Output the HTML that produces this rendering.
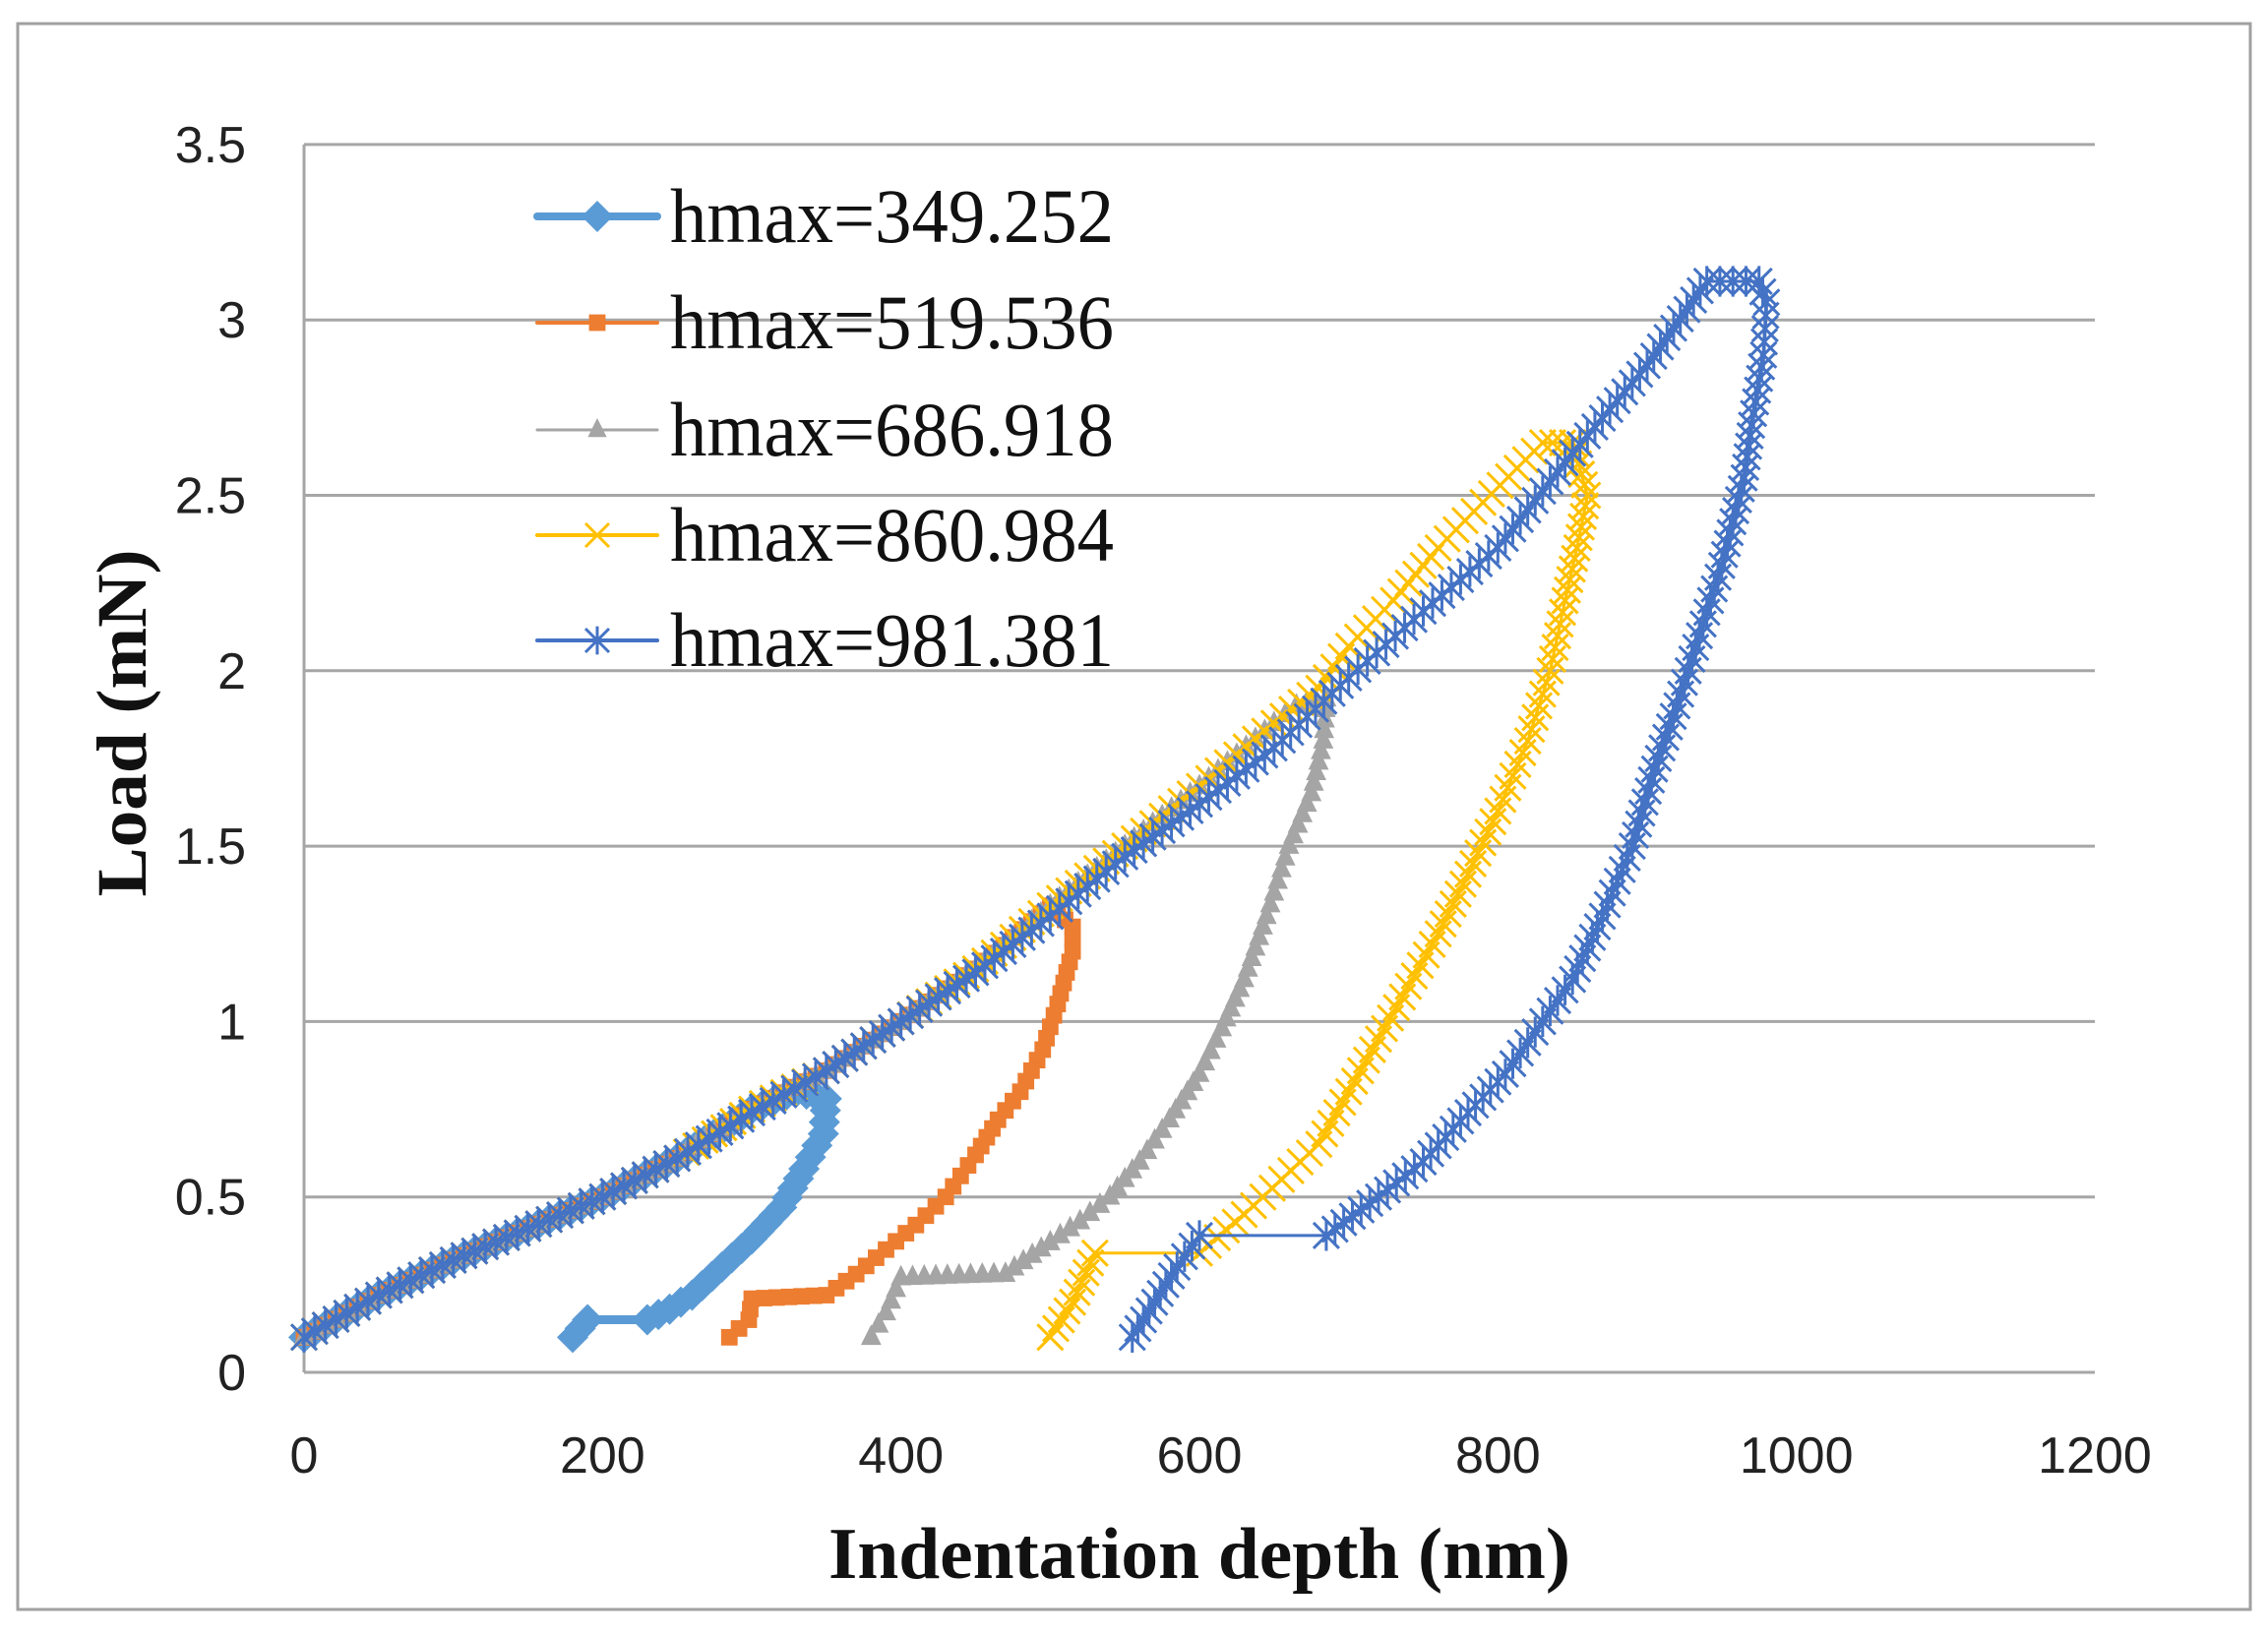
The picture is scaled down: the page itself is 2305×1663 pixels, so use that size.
<!DOCTYPE html>
<html><head><meta charset="utf-8"><style>
html,body{margin:0;padding:0;background:#fff}
svg{display:block}
</style></head><body>
<svg id="s" xmlns="http://www.w3.org/2000/svg" width="2305" height="1663" viewBox="0 0 2305 1663">
<rect x="0" y="0" width="2305" height="1663" fill="#fff"/>
<rect x="18" y="24" width="2269" height="1612" fill="#fff" stroke="#a0a0a0" stroke-width="3"/>
<g id="grid" stroke="#a6a6a6" stroke-width="3"></g>
<g id="ticks" font-family="'Liberation Sans',sans-serif" font-size="52" fill="#222"></g>
<text x="0" y="0" transform="translate(148,735) rotate(-90)" text-anchor="middle" font-family="'Liberation Serif',serif" font-weight="bold" font-size="72" fill="#111" textLength="353" lengthAdjust="spacingAndGlyphs">Load (mN)</text>
<text x="1219" y="1604" text-anchor="middle" font-family="'Liberation Serif',serif" font-weight="bold" font-size="74" fill="#111" textLength="754" lengthAdjust="spacingAndGlyphs">Indentation depth (nm)</text>
<g id="data"></g>
<g id="legend" font-family="'Liberation Serif',serif" font-size="78" fill="#111"></g>
</svg>
<script>
const NS="http://www.w3.org/2000/svg";
const X=h=>309+h*1820/1200, Y=p=>1395-p*356.6;
const grid=document.getElementById('grid'),ticks=document.getElementById('ticks');
function el(t,a,p){const e=document.createElementNS(NS,t);for(const k in a)e.setAttribute(k,a[k]);p.appendChild(e);return e;}
for(let i=0;i<=7;i++){const y=Y(i*0.5);el('line',{x1:309,x2:2129,y1:y,y2:y},grid);
 const t=el('text',{x:250,y:y+18,'text-anchor':'end'},ticks);t.textContent=(i*0.5).toString();}
el('line',{x1:309,x2:309,y1:Y(3.5),y2:Y(0)},grid);
for(let i=0;i<=6;i++){const t=el('text',{x:X(i*200),y:1497,'text-anchor':'middle'},ticks);t.textContent=(i*200).toString();}
const load=[[0,0.1],[50,0.22],[100,0.32],[150,0.41],[200,0.5],[250,0.61],[300,0.75],[350,0.86],[400,1.0],[450,1.15],[500,1.33],[550,1.5],[600,1.67],[650,1.85],[680,1.95]];
const loadB=[[0,0.1],[50,0.22],[100,0.32],[150,0.41],[200,0.5],[250,0.61],[300,0.74],[350,0.86],[400,1.0],[450,1.14],[500,1.3],[550,1.47],[600,1.62],[650,1.78],[700,1.98],[750,2.17],[800,2.35],[850,2.62],[900,2.87],[940,3.11]];
function upto(arr,hEnd){return arr.filter(p=>p[0]<=hEnd);}
const series=[
 {c:'#5B9BD5',w:9,m:'dia',pts:[...upto(load,300),[330,0.8],[350,0.78],[348,0.68],[335,0.58],[320,0.47],[300,0.38],[280,0.3],[260,0.22],[245,0.18],[230,0.15],[190,0.15],[180,0.1]]},
 {c:'#ED7D31',w:3,m:'sq',pts:[...upto(load,500),[515,1.27],[515,1.2],[505,1.05],[495,0.92],[480,0.8],[465,0.72],[450,0.62],[430,0.5],[410,0.42],[390,0.35],[370,0.28],[350,0.22],[300,0.21],[298,0.15],[285,0.1]]},
 {c:'#A5A5A5',w:3,m:'tri',pts:[...upto(load,650),[665,1.9],[685,1.92],[683,1.8],[675,1.65],[660,1.5],[645,1.3],[630,1.12],[615,0.98],[600,0.85],[580,0.72],[560,0.6],[540,0.5],[520,0.43],[500,0.37],[470,0.28],[400,0.27],[390,0.17],[380,0.1]]},
 {c:'#FFC000',w:3,m:'x',pts:[...upto(load,680),[700,2.07],[730,2.2],[760,2.35],[790,2.48],[830,2.65],[850,2.65],[860,2.5],[853,2.35],[845,2.2],[835,2.0],[820,1.8],[800,1.6],[780,1.42],[760,1.25],[740,1.1],[720,0.95],[700,0.8],[680,0.65],[655,0.55],[630,0.45],[600,0.34],[530,0.34],[515,0.2],[500,0.1]]},
 {c:'#4472C4',w:3,m:'ast',pts:[...loadB,[975,3.11],[980,3.05],[978,2.9],[970,2.7],[965,2.55],[950,2.3],[935,2.1],[920,1.9],[905,1.72],[890,1.5],[870,1.3],[850,1.12],[830,1.0],[805,0.85],[780,0.74],[750,0.6],[720,0.5],[685,0.39],[600,0.39],[585,0.3],[570,0.2],[555,0.1]]}
];
function marker(g,m,x,y,c,sz){
 if(m==='dia'){el('path',{d:`M${x},${y-sz}L${x+sz},${y}L${x},${y+sz}L${x-sz},${y}Z`,fill:c},g);}
 else if(m==='sq'){el('rect',{x:x-sz*0.7,y:y-sz*0.7,width:sz*1.4,height:sz*1.4,fill:c},g);}
 else if(m==='tri'){el('path',{d:`M${x},${y-sz}L${x+sz*0.8},${y+sz*0.6}L${x-sz*0.8},${y+sz*0.6}Z`,fill:c},g);}
 else if(m==='x'){el('path',{d:`M${x-sz},${y-sz}L${x+sz},${y+sz}M${x-sz},${y+sz}L${x+sz},${y-sz}`,stroke:c,'stroke-width':3,fill:'none'},g);}
 else {el('path',{d:`M${x-sz},${y-sz}L${x+sz},${y+sz}M${x-sz},${y+sz}L${x+sz},${y-sz}M${x},${y-sz*1.2}L${x},${y+sz*1.2}`,stroke:c,'stroke-width':3,fill:'none'},g);}
}
const data=document.getElementById('data');
const sizes={dia:16,sq:12,tri:13,x:13,ast:13};
series.forEach(s=>{
 const P=s.pts.map(p=>[X(p[0]),Y(p[1])]);
 el('path',{d:'M'+P.map(p=>p.join(',')).join('L'),stroke:s.c,'stroke-width':s.w,fill:'none','stroke-linejoin':'round'},data);
 const g=el('g',{},data);
 const step=12;
 for(let i=0;i<P.length-1;i++){
  const [x1,y1]=P[i],[x2,y2]=P[i+1];const L=Math.hypot(x2-x1,y2-y1);
  if(L>60 && Math.abs(y2-y1)<3){marker(g,s.m,x1,y1,s.c,sizes[s.m]);continue;}
  const n=Math.max(1,Math.round(L/step));
  for(let k=0;k<n;k++){const t=k/n;marker(g,s.m,x1+(x2-x1)*t,y1+(y2-y1)*t,s.c,sizes[s.m]);}
 }
 const l=P[P.length-1];marker(g,s.m,l[0],l[1],s.c,sizes[s.m]);
});
const leg=document.getElementById('legend');
const labs=[['#5B9BD5',8,'dia','hmax=349.252',220],['#ED7D31',4,'sq','hmax=519.536',328],['#A5A5A5',3,'tri','hmax=686.918',437],['#FFC000',4,'x','hmax=860.984',544],['#4472C4',4,'ast','hmax=981.381',651]];
labs.forEach(([c,w,m,t,y])=>{
 el('line',{x1:546,x2:668,y1:y,y2:y,stroke:c,'stroke-width':w,'stroke-linecap':'round'},leg);
 marker(leg,m,607,y,c,m==='dia'?16:12);
 const tx=el('text',{x:681,y:y+26,textLength:451,lengthAdjust:'spacingAndGlyphs'},leg);tx.textContent=t;
});
</script>
</body></html>
